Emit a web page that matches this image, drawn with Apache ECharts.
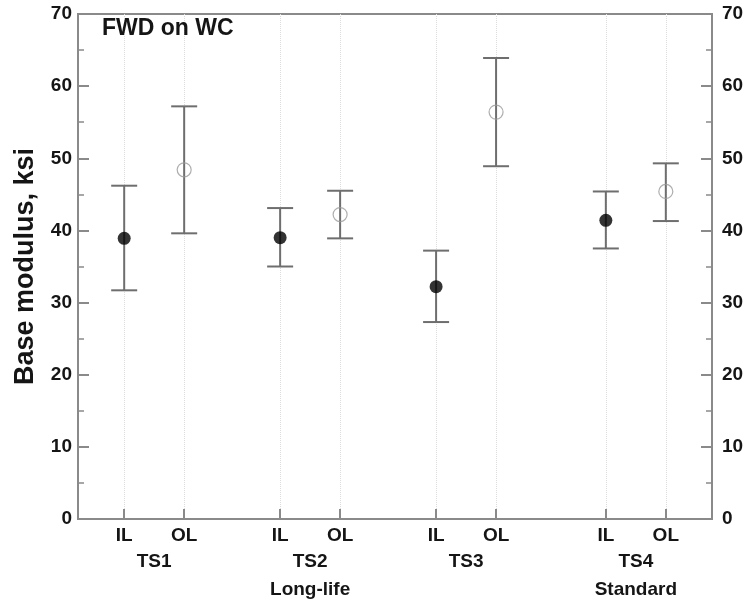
<!DOCTYPE html>
<html>
<head>
<meta charset="utf-8">
<script src="https://cdn.jsdelivr.net/npm/echarts@6/dist/echarts.min.js"></script>
<style>
  html, body { margin: 0; padding: 0; background: #fff; }
  #chart { width: 744px; height: 600px; }
</style>
</head>
<body>
<div id="chart"></div>
<script>
// ---- data ----
const xPos = [1, 2, 3.6, 4.6, 6.2, 7.2, 9.03, 10.03];
const layerLabels = ['IL', 'OL', 'IL', 'OL', 'IL', 'OL', 'IL', 'OL'];
const groupNames = ['TS1', 'TS2', 'TS3', 'TS4'];
const groupSubtitles = ['', 'Long-life', '', 'Standard'];
const ilMean = [38.9, 39.0, 32.2, 41.4];
const ilLow  = [31.7, 35.0, 27.3, 37.5];
const ilHigh = [46.2, 43.1, 37.2, 45.4];
const olMean = [48.4, 42.2, 56.4, 45.4];
const olLow  = [39.6, 38.9, 48.9, 41.3];
const olHigh = [57.2, 45.5, 63.9, 49.3];
const yMin = 0, yMax = 70, yStep = 10;
const titleText = 'FWD on WC';
const yName = 'Base modulus, ksi';

// ---- build ----
const FONT = "'Liberation Sans', Arial, sans-serif";
const AXIS_COLOR = '#8a8a8a';
const TEXT_COLOR = '#151515';
const ilX = groupNames.map((_, i) => xPos[2 * i]);
const olX = groupNames.map((_, i) => xPos[2 * i + 1]);
const groupPos = groupNames.map((_, i) => (xPos[2 * i] + xPos[2 * i + 1]) / 2);

const errData = [];
groupNames.forEach((_, i) => {
  errData.push([ilX[i], ilLow[i], ilHigh[i]]);
  errData.push([olX[i], olLow[i], olHigh[i]]);
});

function findIdx(arr, v) {
  for (let i = 0; i < arr.length; i++) if (Math.abs(arr[i] - v) < 1e-6) return i;
  return -1;
}

const chart = echarts.init(document.getElementById('chart'), null, { renderer: 'canvas' });
const yAxisCommon = {
  type: 'value', min: yMin, max: yMax, interval: yStep,
  axisLine: { show: true, lineStyle: { color: AXIS_COLOR, width: 2 } },
  axisTick: { show: true, inside: true, length: 11, lineStyle: { color: AXIS_COLOR, width: 2 } },
  minorTick: { show: true, splitNumber: 2, length: 6, lineStyle: { color: AXIS_COLOR, width: 1.5 } },
  splitLine: { show: false },
  axisLabel: { fontFamily: FONT, fontSize: 19, fontWeight: 'bold', color: TEXT_COLOR }
};

chart.setOption({
  animation: false,
  backgroundColor: '#fff',
  title: {
    text: titleText, left: 102, top: 17, padding: 0,
    textStyle: { fontFamily: FONT, fontSize: 23, fontWeight: 'bold', color: TEXT_COLOR }
  },
  grid: {
    left: 78, right: 32, top: 14, bottom: 81,
    containLabel: false, outerBoundsMode: 'none',
    show: true, borderColor: AXIS_COLOR, borderWidth: 2, backgroundColor: 'transparent'
  },
  xAxis: [
    {
      type: 'value', min: 0.23, max: 10.8, position: 'bottom',
      axisLine: { show: true, onZero: false, lineStyle: { color: AXIS_COLOR, width: 2 } },
      axisTick: { show: true, inside: true, length: 10, customValues: xPos, lineStyle: { color: AXIS_COLOR, width: 2 } },
      axisLabel: {
        customValues: xPos, margin: 7,
        fontFamily: FONT, fontSize: 19, fontWeight: 'bold', color: TEXT_COLOR,
        formatter: v => { const i = findIdx(xPos, v); return i >= 0 ? layerLabels[i] : ''; }
      },
      splitLine: { show: true, lineStyle: { color: '#dcdcdc', type: 'dotted', width: 1 } }
    },
    {
      type: 'value', min: 0.23, max: 10.8, position: 'bottom',
      axisLine: { show: false, onZero: false },
      axisTick: { show: false, customValues: groupPos },
      splitLine: { show: false },
      axisLabel: {
        customValues: groupPos, margin: 29,
        fontFamily: FONT, fontSize: 19, fontWeight: 'bold', color: TEXT_COLOR, lineHeight: 28,
        formatter: v => {
          const i = findIdx(groupPos, v);
          if (i < 0) return '';
          return groupSubtitles[i] ? groupNames[i] + '\n' + groupSubtitles[i] : groupNames[i];
        }
      }
    }
  ],
  yAxis: [
    Object.assign({}, yAxisCommon, {
      position: 'left',
      axisLabel: Object.assign({}, yAxisCommon.axisLabel, { margin: 6 }),
      name: yName, nameLocation: 'middle', nameGap: 39, nameRotate: 90,
      nameTextStyle: { fontFamily: FONT, fontSize: 27, fontWeight: 'bold', color: TEXT_COLOR }
    }),
    Object.assign({}, yAxisCommon, {
      position: 'right',
      axisLabel: Object.assign({}, yAxisCommon.axisLabel, { margin: 10 })
    })
  ],
  series: [
    {
      type: 'custom', xAxisIndex: 0, yAxisIndex: 0, z: 2,
      data: errData,
      renderItem: (params, api) => {
        const x = api.value(0);
        const lo = api.coord([x, api.value(1)]);
        const hi = api.coord([x, api.value(2)]);
        const hw = 13;
        const style = { stroke: '#6e6e6e', lineWidth: 2 };
        return {
          type: 'group',
          children: [
            { type: 'line', shape: { x1: lo[0], y1: lo[1], x2: hi[0], y2: hi[1] }, style },
            { type: 'line', shape: { x1: hi[0] - hw, y1: hi[1], x2: hi[0] + hw, y2: hi[1] }, style },
            { type: 'line', shape: { x1: lo[0] - hw, y1: lo[1], x2: lo[0] + hw, y2: lo[1] }, style }
          ]
        };
      }
    },
    {
      type: 'scatter', name: 'IL', xAxisIndex: 0, yAxisIndex: 0, z: 3,
      symbol: 'circle', symbolSize: 13,
      itemStyle: { color: '#000' },
      data: ilX.map((x, i) => [x, ilMean[i]])
    },
    {
      type: 'scatter', name: 'OL', xAxisIndex: 0, yAxisIndex: 0, z: 3,
      symbol: 'circle', symbolSize: 14,
      itemStyle: { color: 'rgba(255,255,255,0)', borderColor: '#9a9a9a', borderWidth: 1.2 },
      data: olX.map((x, i) => [x, olMean[i]])
    }
  ]
});
</script>
</body>
</html>
